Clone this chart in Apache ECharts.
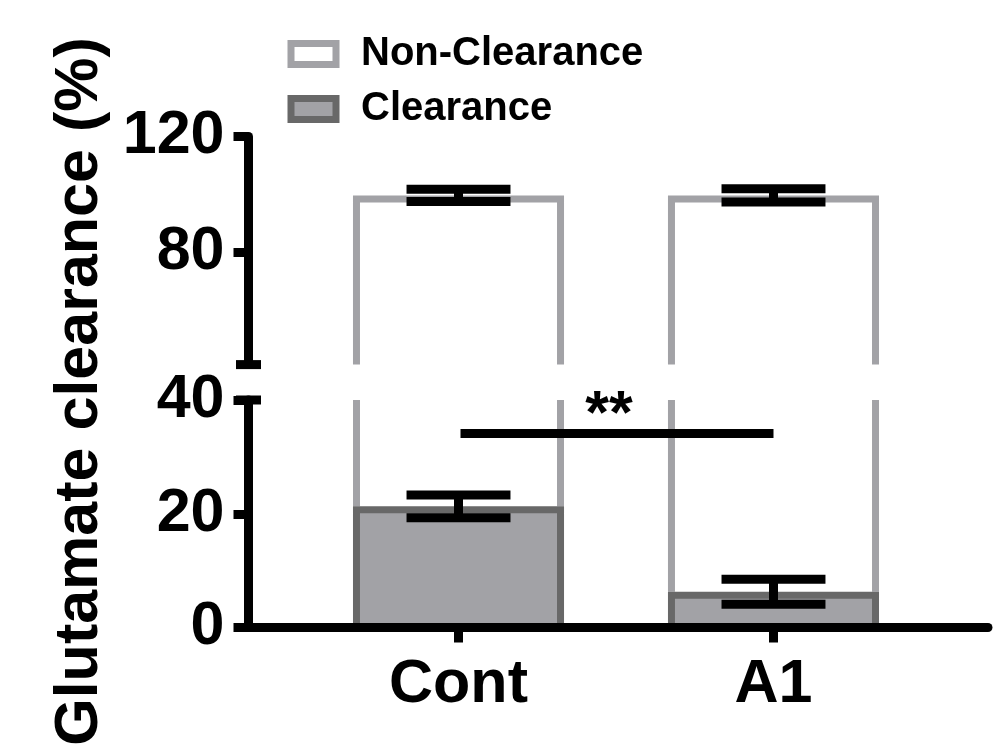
<!DOCTYPE html>
<html>
<head>
<meta charset="utf-8">
<script src="https://cdn.jsdelivr.net/npm/echarts@6/dist/echarts.min.js"></script>
<style>
html,body{margin:0;padding:0;background:#fff;}
#chart{width:1003px;height:749px;}
</style>
</head>
<body>
<div id="chart"></div>
<script>
// ---- data ----
const categories = ['Cont', 'A1'];
const clearance = [21.3, 6.3];          // Clearance mean (%)
const clearanceErr = [2.0, 2.2];        // Clearance error
const nonClearance = [78.3, 93.3];      // Non-Clearance, stacked on Clearance
const totalErr = [2.1, 2.3];            // error at top of the stack
const upperTicks = [80, 120];
const lowerTicks = [0, 20, 40];
const sigFrom = 0, sigTo = 1, sigLevel = 34.1, sigLabel = '**';
const yTitle = 'Glutamate clearance (%)';
const legendNames = ['Non-Clearance', 'Clearance'];

// ---- style ----
const FONT = '"Liberation Sans", Arial, Helvetica, sans-serif';
const LIGHT = '#a2a2a6';
const DARK = '#686868';
const BWG = 7;   // gray border width
const BWB = 9;   // black line width
const BAR_FRAC = 0.67;
const CAP_FRAC = 0.33;

const nonClearData = categories.map((c, i) => [i, clearance[i], clearance[i] + nonClearance[i]]);
const clearData = categories.map((c, i) => [i, clearance[i]]);
const clearErrData = categories.map((c, i) => [i, clearance[i], clearanceErr[i]]);
const totalErrData = categories.map((c, i) => [i, clearance[i] + nonClearance[i], totalErr[i]]);

function outlineItem(params, api) {
  const i = api.value(0), lo = api.value(1), hi = api.value(2);
  const cs = params.coordSys;
  const half = api.size([BAR_FRAC, 0])[0] / 2;
  const pLo = api.coord([i, lo]), pHi = api.coord([i, hi]);
  const cx = pLo[0];
  const top = Math.max(pHi[1], cs.y);
  const bot = Math.min(pLo[1], cs.y + cs.height);
  if (top >= bot) return null;
  const L = cx - half + BWG / 2, R = cx + half - BWG / 2;
  const st = { stroke: LIGHT, lineWidth: BWG, fill: null, lineJoin: 'miter', lineCap: 'butt' };
  const children = [];
  if (pHi[1] >= cs.y) {
    children.push({ type: 'polyline', shape: { points: [[L, bot], [L, top + BWG / 2], [R, top + BWG / 2], [R, bot]] }, style: st });
  } else {
    children.push({ type: 'line', shape: { x1: L, y1: top, x2: L, y2: bot }, style: st });
    children.push({ type: 'line', shape: { x1: R, y1: top, x2: R, y2: bot }, style: st });
  }
  return { type: 'group', children: children };
}

function barItem(params, api) {
  const i = api.value(0), v = api.value(1);
  const p = api.coord([i, v]);
  const base = api.coord([i, 0])[1];
  const half = api.size([BAR_FRAC, 0])[0] / 2;
  return {
    type: 'rect',
    shape: { x: p[0] - half + BWG / 2, y: p[1] + BWG / 2, width: 2 * half - BWG, height: base - p[1] - BWG / 2 },
    style: { fill: LIGHT, stroke: DARK, lineWidth: BWG }
  };
}

function errItem(params, api) {
  const i = api.value(0), m = api.value(1), e = api.value(2);
  const pHi = api.coord([i, m + e]);
  const yLo = api.coord([i, m - e])[1];
  const cx = pHi[0];
  const hc = api.size([CAP_FRAC, 0])[0] / 2;
  const st = { stroke: '#000', lineWidth: BWB, lineCap: 'butt' };
  return {
    type: 'group',
    children: [
      { type: 'line', shape: { x1: cx, y1: pHi[1], x2: cx, y2: yLo }, style: st },
      { type: 'line', shape: { x1: cx - hc, y1: pHi[1], x2: cx + hc, y2: pHi[1] }, style: st },
      { type: 'line', shape: { x1: cx - hc, y1: yLo, x2: cx + hc, y2: yLo }, style: st }
    ]
  };
}

function sigItem(params, api) {
  const p1 = api.coord([api.value(0), api.value(2)]);
  const p2 = api.coord([api.value(1), api.value(2)]);
  return {
    type: 'group',
    children: [
      { type: 'line', shape: { x1: p1[0] + 2, y1: p1[1], x2: p2[0], y2: p2[1] }, style: { stroke: '#000', lineWidth: BWB } },
      { type: 'text', x: (p1[0] + p2[0]) / 2 - 7, y: p1[1] - 17,
        style: { text: sigLabel, fill: '#000', font: 'bold 61px ' + FONT, textAlign: 'center', textVerticalAlign: 'middle' } }
    ]
  };
}

const chart = echarts.init(document.getElementById('chart'), null, { renderer: 'canvas' });

const xCommon = { type: 'value', min: -0.6667, max: 1.681, splitLine: { show: false } };
const labelFont = { fontSize: 61, fontWeight: 'bold', fontFamily: FONT, color: '#000' };

chart.setOption({
  animation: false,
  backgroundColor: '#fff',
  grid: [
    { left: 248.5, right: 15, top: 136.5, height: 228.1 },
    { left: 248.5, right: 15, top: 400, height: 227.5 }
  ],
  xAxis: [
    Object.assign({ gridIndex: 0, show: false, axisLine: { onZero: false } }, xCommon),
    Object.assign({
      gridIndex: 1, z: 10,
      axisLine: { show: true, onZero: false, lineStyle: { color: '#000', width: BWB } },
      axisTick: { show: true, customValues: [0, 1], length: 15, lineStyle: { color: '#000', width: BWB } },
      axisLabel: Object.assign({ customValues: [0, 1], margin: 27, formatter: v => categories[Math.round(v)] }, labelFont)
    }, xCommon)
  ],
  yAxis: [
    {
      type: 'value', gridIndex: 0, min: 41, max: 120, z: 10,
      splitLine: { show: false },
      axisLine: { show: true, onZero: false, symbol: ['rect', 'none'], symbolSize: [25, 9], lineStyle: { color: '#000', width: BWB } },
      axisTick: { show: true, customValues: upperTicks, length: 15, lineStyle: { color: '#000', width: BWB } },
      axisLabel: Object.assign({ customValues: upperTicks, margin: 24, padding: [5, 0, 0, 0] }, labelFont)
    },
    {
      type: 'value', gridIndex: 1, min: 0, max: 40, interval: 20, z: 10,
      splitLine: { show: false },
      axisLine: { show: true, onZero: false, symbol: ['none', 'rect'], symbolSize: [25, 9], lineStyle: { color: '#000', width: BWB } },
      axisTick: { show: true, customValues: lowerTicks, length: 15, lineStyle: { color: '#000', width: BWB } },
      axisLabel: Object.assign({ customValues: lowerTicks, margin: 24, padding: [5, 0, 0, 0] }, labelFont)
    }
  ],
  legend: {
    orient: 'vertical', left: 282.5, top: 29, itemGap: 15,
    itemWidth: 45, itemHeight: 21,
    textStyle: { fontSize: 40, fontWeight: 'bold', fontFamily: FONT, color: '#000', padding: [0, 0, 0, 20] },
    data: [
      { name: legendNames[0], icon: 'rect', itemStyle: { color: '#fff', borderColor: LIGHT, borderWidth: BWG } },
      { name: legendNames[1], icon: 'rect', itemStyle: { color: LIGHT, borderColor: DARK, borderWidth: BWG } }
    ]
  },
  graphic: [
    { type: 'text', x: 80, y: 391.5, rotation: Math.PI / 2,
      style: { text: yTitle, font: 'bold 61px ' + FONT, fill: '#000', textAlign: 'center', textVerticalAlign: 'middle' } }
  ],
  series: [
    { name: legendNames[0], type: 'custom', xAxisIndex: 0, yAxisIndex: 0, renderItem: outlineItem,
      encode: { x: 0, y: [1, 2] }, data: nonClearData, itemStyle: { color: '#fff', borderColor: LIGHT } },
    { name: legendNames[0], type: 'custom', xAxisIndex: 1, yAxisIndex: 1, renderItem: outlineItem,
      encode: { x: 0, y: [1, 2] }, data: nonClearData, itemStyle: { color: '#fff', borderColor: LIGHT } },
    { name: legendNames[1], type: 'custom', xAxisIndex: 1, yAxisIndex: 1, renderItem: barItem,
      encode: { x: 0, y: 1 }, data: clearData, itemStyle: { color: LIGHT, borderColor: DARK } },
    { name: 'err-total', type: 'custom', xAxisIndex: 0, yAxisIndex: 0, renderItem: errItem,
      encode: { x: 0, y: 1 }, data: totalErrData },
    { name: 'err-clear', type: 'custom', xAxisIndex: 1, yAxisIndex: 1, renderItem: errItem,
      encode: { x: 0, y: 1 }, data: clearErrData },
    { name: 'sig', type: 'custom', xAxisIndex: 1, yAxisIndex: 1, renderItem: sigItem,
      encode: { x: [0, 1], y: 2 }, data: [[sigFrom, sigTo, sigLevel]] }
  ]
});
</script>
</body>
</html>
